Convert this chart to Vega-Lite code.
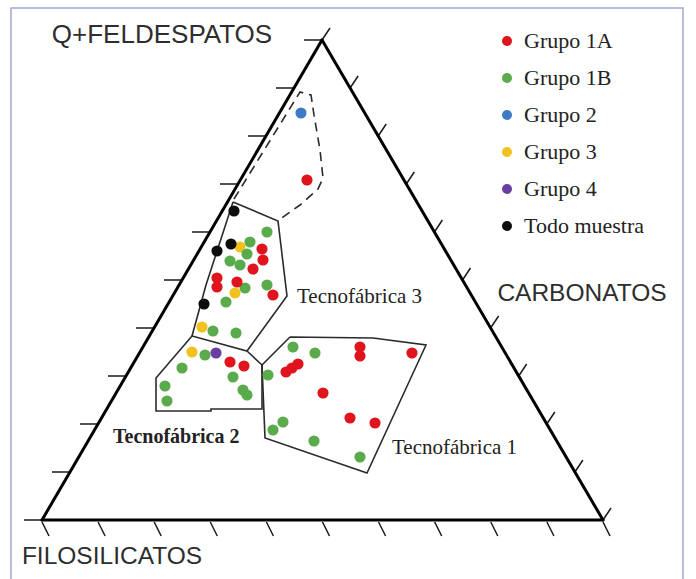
{
  "$schema": "https://vega.github.io/schema/vega-lite/v6.json",
  "width": 696,
  "height": 579,
  "autosize": "none",
  "padding": 0,
  "background": "white",
  "config": {"view": {"stroke": null}},
  "datasets": {
    "frame": [{"x": 11, "x2": 683, "y": 8, "y2": 600}],
    "edges": [
      {"x": 42, "y": 520, "x2": 322, "y2": 40},
      {"x": 322, "y": 40, "x2": 603, "y2": 520},
      {"x": 42, "y": 520, "x2": 603, "y2": 520}
    ],
    "ticks": [
      {"x": 24, "y": 520, "x2": 42, "y2": 520},
      {"x": 52, "y": 472, "x2": 70, "y2": 472},
      {"x": 80, "y": 424, "x2": 98, "y2": 424},
      {"x": 108, "y": 376, "x2": 126, "y2": 376},
      {"x": 136, "y": 328, "x2": 154, "y2": 328},
      {"x": 164, "y": 280, "x2": 182, "y2": 280},
      {"x": 192, "y": 232, "x2": 210, "y2": 232},
      {"x": 220, "y": 184, "x2": 238, "y2": 184},
      {"x": 248, "y": 136, "x2": 266, "y2": 136},
      {"x": 276, "y": 88, "x2": 294, "y2": 88},
      {"x": 304, "y": 40, "x2": 322, "y2": 40},
      {"x": 42, "y": 522, "x2": 49, "y2": 536},
      {"x": 98.1, "y": 522, "x2": 105.1, "y2": 536},
      {"x": 154.2, "y": 522, "x2": 161.2, "y2": 536},
      {"x": 210.3, "y": 522, "x2": 217.3, "y2": 536},
      {"x": 266.4, "y": 522, "x2": 273.4, "y2": 536},
      {"x": 322.5, "y": 522, "x2": 329.5, "y2": 536},
      {"x": 378.6, "y": 522, "x2": 385.6, "y2": 536},
      {"x": 434.7, "y": 522, "x2": 441.7, "y2": 536},
      {"x": 490.8, "y": 522, "x2": 497.8, "y2": 536},
      {"x": 546.9, "y": 522, "x2": 553.9, "y2": 536},
      {"x": 603, "y": 522, "x2": 610, "y2": 536},
      {"x": 322, "y": 40, "x2": 330, "y2": 28},
      {"x": 350.1, "y": 88, "x2": 358.1, "y2": 76},
      {"x": 378.2, "y": 136, "x2": 386.2, "y2": 124},
      {"x": 406.3, "y": 184, "x2": 414.3, "y2": 172},
      {"x": 434.4, "y": 232, "x2": 442.4, "y2": 220},
      {"x": 462.5, "y": 280, "x2": 470.5, "y2": 268},
      {"x": 490.6, "y": 328, "x2": 498.6, "y2": 316},
      {"x": 518.7, "y": 376, "x2": 526.7, "y2": 364},
      {"x": 546.8, "y": 424, "x2": 554.8, "y2": 412},
      {"x": 574.9, "y": 472, "x2": 582.9, "y2": 460},
      {"x": 603, "y": 520, "x2": 611, "y2": 508}
    ],
    "polys": [
      {"p": "T3", "i": 0, "x": 233, "y": 202},
      {"p": "T3", "i": 1, "x": 278, "y": 221},
      {"p": "T3", "i": 2, "x": 287, "y": 296},
      {"p": "T3", "i": 3, "x": 247, "y": 351},
      {"p": "T3", "i": 4, "x": 192, "y": 336},
      {"p": "T3", "i": 5, "x": 206, "y": 285},
      {"p": "T3", "i": 6, "x": 233, "y": 202},
      {"p": "T2", "i": 0, "x": 192, "y": 336},
      {"p": "T2", "i": 1, "x": 156, "y": 378},
      {"p": "T2", "i": 2, "x": 156, "y": 411},
      {"p": "T2", "i": 3, "x": 211, "y": 411},
      {"p": "T2", "i": 4, "x": 211, "y": 409},
      {"p": "T2", "i": 5, "x": 262, "y": 409},
      {"p": "T2", "i": 6, "x": 262, "y": 365},
      {"p": "T2", "i": 7, "x": 247, "y": 351},
      {"p": "T1", "i": 0, "x": 290, "y": 337},
      {"p": "T1", "i": 1, "x": 373, "y": 338},
      {"p": "T1", "i": 2, "x": 426, "y": 345},
      {"p": "T1", "i": 3, "x": 367, "y": 473},
      {"p": "T1", "i": 4, "x": 265, "y": 438},
      {"p": "T1", "i": 5, "x": 262, "y": 365},
      {"p": "T1", "i": 6, "x": 290, "y": 337}
    ],
    "dashed": [
      {"i": 0, "x": 234, "y": 199},
      {"i": 1, "x": 300, "y": 92},
      {"i": 2, "x": 311, "y": 95},
      {"i": 3, "x": 314, "y": 115},
      {"i": 4, "x": 320, "y": 150},
      {"i": 5, "x": 323, "y": 178},
      {"i": 6, "x": 318, "y": 189},
      {"i": 7, "x": 300, "y": 205},
      {"i": 8, "x": 279, "y": 220}
    ],
    "points": [
      {"x": 267, "y": 232, "g": "Grupo 1B"},
      {"x": 250, "y": 242, "g": "Grupo 1B"},
      {"x": 240, "y": 247, "g": "Grupo 3"},
      {"x": 247, "y": 254, "g": "Grupo 1B"},
      {"x": 230, "y": 261, "g": "Grupo 1B"},
      {"x": 240, "y": 265, "g": "Grupo 1B"},
      {"x": 245, "y": 288, "g": "Grupo 1B"},
      {"x": 226, "y": 302, "g": "Grupo 1B"},
      {"x": 267, "y": 285, "g": "Grupo 1B"},
      {"x": 213, "y": 331, "g": "Grupo 1B"},
      {"x": 236, "y": 333, "g": "Grupo 1B"},
      {"x": 205, "y": 355, "g": "Grupo 1B"},
      {"x": 182, "y": 368, "g": "Grupo 1B"},
      {"x": 233, "y": 377, "g": "Grupo 1B"},
      {"x": 243, "y": 390, "g": "Grupo 1B"},
      {"x": 247, "y": 395, "g": "Grupo 1B"},
      {"x": 165, "y": 386, "g": "Grupo 1B"},
      {"x": 167, "y": 401, "g": "Grupo 1B"},
      {"x": 293, "y": 347, "g": "Grupo 1B"},
      {"x": 315, "y": 353, "g": "Grupo 1B"},
      {"x": 268, "y": 375, "g": "Grupo 1B"},
      {"x": 283, "y": 422, "g": "Grupo 1B"},
      {"x": 273, "y": 430, "g": "Grupo 1B"},
      {"x": 314, "y": 441, "g": "Grupo 1B"},
      {"x": 360, "y": 457, "g": "Grupo 1B"},
      {"x": 301, "y": 113, "g": "Grupo 2"},
      {"x": 307, "y": 180, "g": "Grupo 1A"},
      {"x": 262, "y": 249, "g": "Grupo 1A"},
      {"x": 263, "y": 260, "g": "Grupo 1A"},
      {"x": 253, "y": 269, "g": "Grupo 1A"},
      {"x": 217, "y": 278, "g": "Grupo 1A"},
      {"x": 217, "y": 287, "g": "Grupo 1A"},
      {"x": 237, "y": 282, "g": "Grupo 1A"},
      {"x": 273, "y": 295, "g": "Grupo 1A"},
      {"x": 230, "y": 362, "g": "Grupo 1A"},
      {"x": 244, "y": 366, "g": "Grupo 1A"},
      {"x": 360, "y": 347, "g": "Grupo 1A"},
      {"x": 360, "y": 356, "g": "Grupo 1A"},
      {"x": 412, "y": 353, "g": "Grupo 1A"},
      {"x": 286, "y": 372, "g": "Grupo 1A"},
      {"x": 292, "y": 368, "g": "Grupo 1A"},
      {"x": 298, "y": 364, "g": "Grupo 1A"},
      {"x": 323, "y": 393, "g": "Grupo 1A"},
      {"x": 350, "y": 418, "g": "Grupo 1A"},
      {"x": 375, "y": 423, "g": "Grupo 1A"},
      {"x": 235, "y": 293, "g": "Grupo 3"},
      {"x": 202, "y": 327, "g": "Grupo 3"},
      {"x": 192, "y": 352, "g": "Grupo 3"},
      {"x": 216, "y": 353, "g": "Grupo 4"},
      {"x": 234, "y": 211, "g": "Todo muestra"},
      {"x": 231, "y": 244, "g": "Todo muestra"},
      {"x": 217, "y": 251, "g": "Todo muestra"},
      {"x": 204, "y": 304, "g": "Todo muestra"}
    ],
    "topLabel": [
      {"x": 162, "y": 35, "t": "Q+FELDESPATOS"}
    ],
    "axisLabels": [
      {"x": 112, "y": 557, "t": "FILOSILICATOS"},
      {"x": 582, "y": 294, "t": "CARBONATOS"}
    ],
    "zoneLabels": [
      {"x": 297, "y": 297, "t": "Tecnofábrica 3"},
      {"x": 392, "y": 448, "t": "Tecnofábrica 1"}
    ],
    "zoneLabelsBold": [
      {"x": 113, "y": 437, "t": "Tecnofábrica 2"}
    ]
  },
  "layer": [
    {
      "data": {"name": "frame"},
      "mark": {"type": "rect", "fill": null, "stroke": "#a3a8d2", "strokeWidth": 1.5},
      "encoding": {
        "x": {"field": "x", "type": "quantitative", "scale": {"domain": [0, 696], "nice": false, "zero": false}, "axis": null},
        "x2": {"field": "x2"},
        "y": {"field": "y", "type": "quantitative", "scale": {"domain": [0, 579], "nice": false, "zero": false, "reverse": true}, "axis": null},
        "y2": {"field": "y2"}
      }
    },
    {
      "data": {"name": "ticks"},
      "mark": {"type": "rule", "color": "#1a1a1a", "strokeWidth": 1.5},
      "encoding": {
        "x": {"field": "x", "type": "quantitative"},
        "x2": {"field": "x2"},
        "y": {"field": "y", "type": "quantitative"},
        "y2": {"field": "y2"}
      }
    },
    {
      "data": {"name": "edges"},
      "mark": {"type": "rule", "color": "#000000", "strokeWidth": 3, "strokeCap": "round"},
      "encoding": {
        "x": {"field": "x", "type": "quantitative"},
        "x2": {"field": "x2"},
        "y": {"field": "y", "type": "quantitative"},
        "y2": {"field": "y2"}
      }
    },
    {
      "data": {"name": "polys"},
      "mark": {"type": "line", "color": "#2b2b2b", "strokeWidth": 1.6},
      "encoding": {
        "x": {"field": "x", "type": "quantitative"},
        "y": {"field": "y", "type": "quantitative"},
        "detail": {"field": "p"},
        "order": {"field": "i", "type": "quantitative"}
      }
    },
    {
      "data": {"name": "dashed"},
      "mark": {"type": "line", "color": "#2b2b2b", "strokeWidth": 1.6, "strokeDash": [9, 6]},
      "encoding": {
        "x": {"field": "x", "type": "quantitative"},
        "y": {"field": "y", "type": "quantitative"},
        "order": {"field": "i", "type": "quantitative"}
      }
    },
    {
      "data": {"name": "points"},
      "mark": {"type": "circle", "size": 125, "opacity": 1},
      "encoding": {
        "x": {"field": "x", "type": "quantitative"},
        "y": {"field": "y", "type": "quantitative"},
        "color": {
          "field": "g",
          "type": "nominal",
          "scale": {
            "domain": ["Grupo 1A", "Grupo 1B", "Grupo 2", "Grupo 3", "Grupo 4", "Todo muestra"],
            "range": ["#e0141c", "#5aab4b", "#3d7cc4", "#f1c21f", "#6a3ea2", "#0d0d0d"]
          },
          "legend": {
            "orient": "none",
            "legendX": 496,
            "legendY": 30,
            "title": null,
            "padding": 0,
            "labelFont": "Liberation Serif",
            "labelFontSize": 22,
            "labelColor": "#222222",
            "labelOffset": 6,
            "symbolSize": 100,
            "symbolType": "circle",
            "symbolStrokeWidth": 0,
            "rowPadding": 15
          }
        }
      }
    },
    {
      "data": {"name": "topLabel"},
      "mark": {"type": "text", "font": "Liberation Sans", "fontSize": 26, "color": "#2e2e2e", "align": "center", "baseline": "middle"},
      "encoding": {
        "x": {"field": "x", "type": "quantitative"},
        "y": {"field": "y", "type": "quantitative"},
        "text": {"field": "t"}
      }
    },
    {
      "data": {"name": "axisLabels"},
      "mark": {"type": "text", "font": "Liberation Sans", "fontSize": 24.5, "color": "#2e2e2e", "align": "center", "baseline": "middle"},
      "encoding": {
        "x": {"field": "x", "type": "quantitative"},
        "y": {"field": "y", "type": "quantitative"},
        "text": {"field": "t"}
      }
    },
    {
      "data": {"name": "zoneLabels"},
      "mark": {"type": "text", "font": "Liberation Serif", "fontSize": 21, "color": "#222222", "align": "left", "baseline": "middle"},
      "encoding": {
        "x": {"field": "x", "type": "quantitative"},
        "y": {"field": "y", "type": "quantitative"},
        "text": {"field": "t"}
      }
    },
    {
      "data": {"name": "zoneLabelsBold"},
      "mark": {"type": "text", "font": "Liberation Serif", "fontSize": 20, "fontWeight": "bold", "color": "#222222", "align": "left", "baseline": "middle"},
      "encoding": {
        "x": {"field": "x", "type": "quantitative"},
        "y": {"field": "y", "type": "quantitative"},
        "text": {"field": "t"}
      }
    }
  ]
}
